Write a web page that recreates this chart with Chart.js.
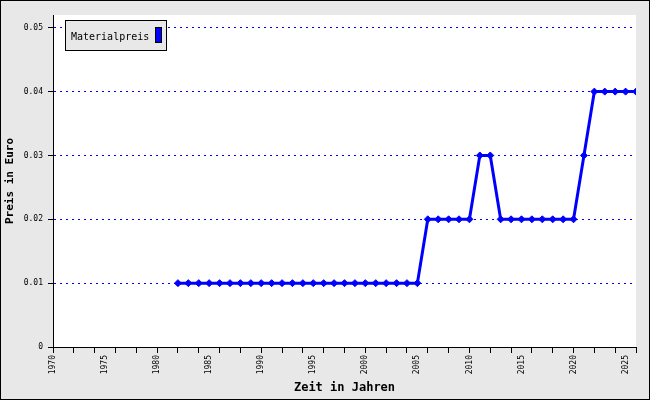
<!DOCTYPE html>
<html>
<head>
<meta charset="utf-8">
<title>Materialpreis</title>
<script src="https://cdn.jsdelivr.net/npm/chart.js@4.4.0/dist/chart.umd.min.js"></script>
<style>
  html, body { margin: 0; padding: 0; background: #e8e8e8; }
  #chart { display: block; }
</style>
</head>
<body>
<canvas id="chart" width="650" height="400"></canvas>
<script>
// Daten
const jahre = [1982, 1983, 1984, 1985, 1986, 1987, 1988, 1989, 1990, 1991,
               1992, 1993, 1994, 1995, 1996, 1997, 1998, 1999, 2000, 2001,
               2002, 2003, 2004, 2005, 2006, 2007, 2008, 2009, 2010, 2011,
               2012, 2013, 2014, 2015, 2016, 2017, 2018, 2019, 2020, 2021,
               2022, 2023, 2024, 2025, 2026];
const preise = [0.01, 0.01, 0.01, 0.01, 0.01, 0.01, 0.01, 0.01, 0.01, 0.01,
                0.01, 0.01, 0.01, 0.01, 0.01, 0.01, 0.01, 0.01, 0.01, 0.01,
                0.01, 0.01, 0.01, 0.01, 0.02, 0.02, 0.02, 0.02, 0.02, 0.03,
                0.03, 0.02, 0.02, 0.02, 0.02, 0.02, 0.02, 0.02, 0.02, 0.03,
                0.04, 0.04, 0.04, 0.04, 0.04];
const yTicks = [0, 0.01, 0.02, 0.03, 0.04, 0.05];
const serienName = 'Materialpreis';

const BLAU = '#0000ff';
const MONO = '"DejaVu Sans Mono", "Liberation Mono", monospace';

// Hintergrund + weisse Zeichenflaeche + Rahmen
const hintergrund = {
    id: 'hintergrund',
    beforeDraw(chart) {
        const { ctx, chartArea } = chart;
        ctx.save();
        ctx.fillStyle = '#e8e8e8';
        ctx.fillRect(0, 0, chart.width, chart.height);
        ctx.fillStyle = '#ffffff';
        ctx.fillRect(chartArea.left, chartArea.top, chartArea.right - chartArea.left, chartArea.bottom - chartArea.top);
        ctx.restore();
    },
    afterDraw(chart) {
        const ctx = chart.ctx;
        ctx.save();
        ctx.strokeStyle = '#000';
        ctx.lineWidth = 1;
        ctx.strokeRect(0.5, 0.5, chart.width - 1, chart.height - 1);
        ctx.restore();
    }
};

// Legende im Diagramm (oben links)
const legendeBox = {
    id: 'legendeBox',
    afterDraw(chart) {
        const ctx = chart.ctx;
        ctx.save();
        ctx.fillStyle = '#e8e8e8';
        ctx.fillRect(65.5, 20.5, 101, 30);
        ctx.strokeStyle = '#000';
        ctx.lineWidth = 1;
        ctx.strokeRect(65.5, 20.5, 101, 30);
        ctx.font = '10px ' + MONO;
        ctx.fillStyle = '#000';
        ctx.textBaseline = 'middle';
        ctx.fillText(serienName, 71, 37);
        ctx.fillStyle = BLAU;
        ctx.fillRect(155.5, 27.5, 6, 15);
        ctx.strokeRect(155.5, 27.5, 6, 15);
        ctx.restore();
    }
};

const ctx = document.getElementById('chart').getContext('2d');
const chart = new Chart(ctx, {
    type: 'line',
    data: {
        datasets: [{
            label: serienName,
            data: jahre.map((j, i) => ({ x: j, y: preise[i] })),
            borderColor: BLAU,
            backgroundColor: BLAU,
            borderWidth: 3,
            pointStyle: 'rectRot',
            pointRadius: 3.5,
            pointBackgroundColor: BLAU,
            pointBorderColor: BLAU,
            pointBorderWidth: 1,
            tension: 0,
            fill: false
        }]
    },
    options: {
        responsive: false,
        animation: false,
        devicePixelRatio: 1,
        layout: { padding: { top: 15, right: 14, left: 0, bottom: 0 } },
        plugins: {
            legend: { display: false },
            tooltip: { enabled: false }
        },
        scales: {
            x: {
                type: 'linear',
                min: 1970,
                max: 2026,
                afterFit: s => { s.height = 53; },
                title: {
                    display: true,
                    text: 'Zeit in Jahren',
                    color: '#000',
                    font: { family: MONO, size: 12, weight: 'bold' },
                    padding: { top: 0, bottom: 5 }
                },
                ticks: {
                    stepSize: 1,
                    autoSkip: false,
                    minRotation: 90,
                    maxRotation: 90,
                    padding: 2,
                    color: '#000',
                    font: { family: MONO, size: 8 },
                    callback: v => (v % 5 === 0 ? String(v) : '')
                },
                grid: {
                    drawOnChartArea: false,
                    tickLength: 6,
                    tickWidth: 1,
                    tickColor: c => (c.tick && c.tick.value % 2 === 0 ? '#000' : 'rgba(0,0,0,0)')
                },
                border: { display: true, color: '#000', width: 1 }
            },
            y: {
                type: 'linear',
                min: 0,
                max: 0.052,
                afterFit: s => { s.width = 53; },
                afterBuildTicks: s => { s.ticks = yTicks.map(v => ({ value: v })); },
                title: {
                    display: true,
                    text: 'Preis in Euro',
                    color: '#000',
                    font: { family: MONO, size: 11, weight: 'bold' },
                    padding: { top: 4, bottom: 0 }
                },
                ticks: {
                    color: '#000',
                    padding: 5,
                    font: { family: MONO, size: 8 },
                    callback: v => (v === 0 ? '0' : v.toFixed(2))
                },
                grid: {
                    color: c => (c.tick && c.tick.value === 0 ? 'rgba(0,0,0,0)' : BLAU),
                    lineWidth: 1,
                    tickLength: 5,
                    tickColor: '#000'
                },
                border: { display: true, color: '#000', width: 1, dash: [2, 4] }
            }
        }
    },
    plugins: [hintergrund, legendeBox]
});
</script>
</body>
</html>
